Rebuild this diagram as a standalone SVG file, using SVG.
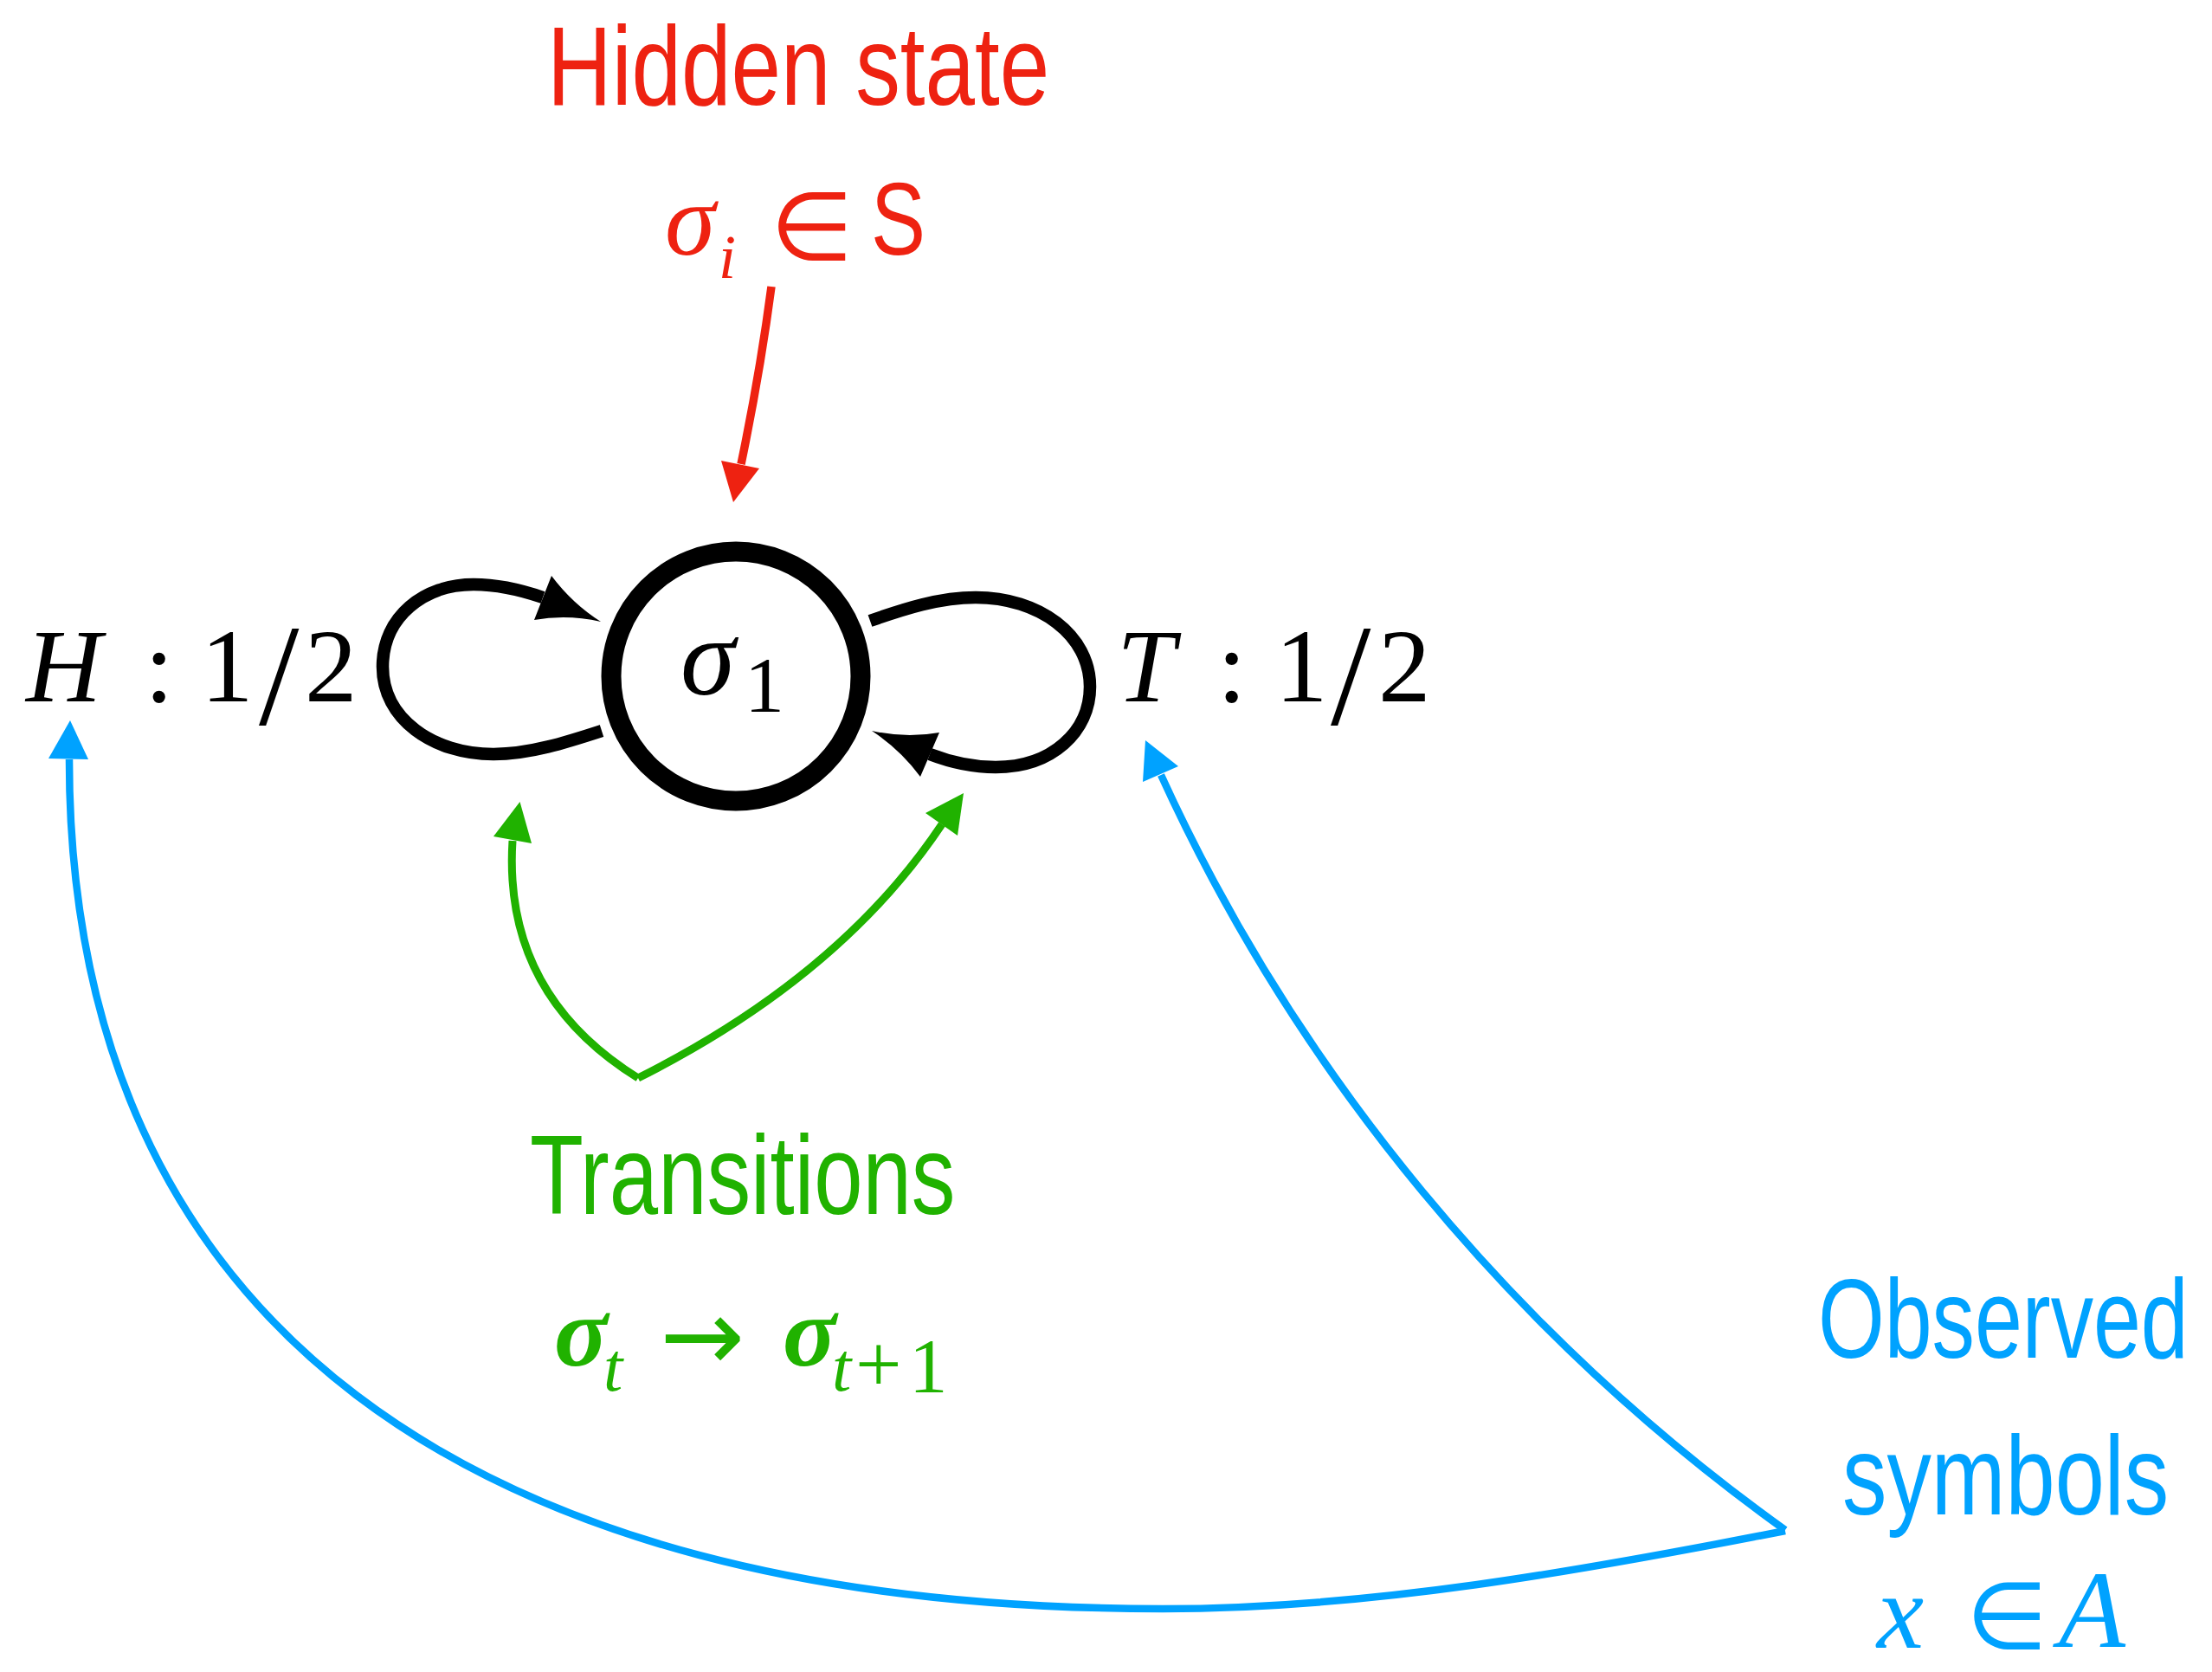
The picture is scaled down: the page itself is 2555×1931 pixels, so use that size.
<svg xmlns="http://www.w3.org/2000/svg" width="2555" height="1931" viewBox="0 0 2555 1931">
<style>
.sans{font-family:"Liberation Sans","Open Sans",sans-serif;}
.serif{font-family:"Liberation Serif","DejaVu Serif",serif;}
.sym{font-family:"DejaVu Sans",sans-serif;}
.it{font-style:italic;}
.red{fill:#EE2211;}
.green{fill:#20B200;}
.blue{fill:#00A2FF;}
.blk{fill:#000;}
.line{fill:none;stroke-linecap:butt;stroke-linejoin:miter;}
.l-red{stroke:#EE2211;stroke-width:9.5;}
.l-green{stroke:#20B200;stroke-width:9;}
.l-blue{stroke:#00A2FF;stroke-width:8.5;}
.l-blk{stroke:#000;stroke-width:14.5;}
</style>
<rect x="0" y="0" width="2555" height="1931" fill="#fff"/>

<g id="connectors">
  <!-- red: hidden state -> sigma1 -->
  <path class="line l-red" d="M 891,331 Q 878,430 856,536"/>
  <polygon class="red" points="847,580 833,532 877,541"/>
  <!-- left self loop (H) -->
  <path class="line l-blk" d="M 695,844 C 655,857 612,871 570,871 C 500,871 442,830 442,770 C 442,712 490,675 547,675 C 572,675 598,680 627,690"/>
  <path class="blk" d="M 637,665 Q 661.5,697.5 694,718 Q 655,709 617,716 Z"/>
  <!-- right self loop (T) -->
  <path class="line l-blk" d="M 1005,717 C 1045,703 1085,690 1127,690 C 1200,690 1259,733 1259,793 C 1259,845 1215,886 1150,886 C 1125,886 1100,881 1074,871"/>
  <path class="blk" d="M 1085,846 Q 1046,853 1007,844 Q 1040,866 1063,897 Z"/>
  <!-- green transitions -->
  <path class="line l-green" d="M 737,1245 C 626,1176 585,1081 592,971"/>
  <polygon class="green" points="600.5,926 570,966 614,974"/>
  <path class="line l-green" d="M 737,1245 Q 970.5,1128 1088,952"/>
  <polygon class="green" points="1113,916 1069,939 1106,965"/>
  <!-- blue observed symbols -->
  <path class="line l-blue" d="M 2062,1767 C 1748,1542 1498,1239 1341,895"/>
  <polygon class="blue" points="1323,855 1320,903 1361,885"/>
  <path class="line l-blue" d="M 2062,1768 C 1827,1814 1583,1858 1343,1858 C 543,1858 80,1527 80,877"/>
  <polygon class="blue" points="81,832 56,876 102,877"/>
</g>

<g id="node-sigma1">
  <circle cx="850" cy="781" r="144" fill="none" stroke="#000" stroke-width="23"/>
  <text class="serif blk"><tspan class="it" x="786" y="802" font-size="128">σ</tspan><tspan x="860" y="822" font-size="92">1</tspan></text>
</g>

<g id="label-H">
  <text class="serif blk" font-size="121"><tspan class="it" x="30" y="810">H</tspan><tspan x="167" y="810">:</tspan><tspan x="232" y="810">1</tspan><tspan x="299" y="836" font-size="167">/</tspan><tspan x="352" y="810">2</tspan></text>
</g>

<g id="label-T">
  <text class="serif blk" font-size="121"><tspan class="it" x="1290" y="810">T</tspan><tspan x="1406" y="810">:</tspan><tspan x="1473" y="810">1</tspan><tspan x="1537" y="836" font-size="167">/</tspan><tspan x="1592" y="810">2</tspan></text>
</g>

<g id="label-hidden-state">
  <text class="sans red" transform="translate(632,121) scale(0.795,1)" x="0" y="0" font-size="130">Hidden state</text>
  <text class="serif red"><tspan class="it" x="768" y="294" font-size="118">σ</tspan><tspan class="it" x="830" y="321" font-size="72">i</tspan><tspan class="sym" x="890" y="300" font-size="110">∈</tspan></text>
  <text class="sans red" transform="translate(1006,294) scale(0.8,1)" x="0" y="0" font-size="118">S</text>
</g>

<g id="label-transitions">
  <text class="sans green" transform="translate(612,1402) scale(0.779,1)" x="0" y="0" font-size="130">Transitions</text>
  <text class="serif green"><tspan class="it" font-weight="bold" x="640" y="1577" font-size="115">σ</tspan><tspan class="it" x="697" y="1606" font-size="80">t</tspan><tspan class="sym" x="762" y="1583" font-size="117">→</tspan><tspan class="it" font-weight="bold" x="904" y="1577" font-size="115">σ</tspan><tspan class="it" x="961" y="1606" font-size="80">t</tspan><tspan x="988" y="1607" font-size="95">+</tspan><tspan x="1050" y="1607" font-size="89">1</tspan></text>
</g>

<g id="label-observed">
  <text class="sans blue" transform="translate(2100,1568) scale(0.759,1)" x="0" y="0" font-size="130">Observed</text>
  <text class="sans blue" transform="translate(2128,1749) scale(0.791,1)" x="0" y="0" font-size="130">symbols</text>
  <text class="serif blue"><tspan class="it" x="2168" y="1903" font-size="122">x</tspan><tspan class="sym" x="2271" y="1904" font-size="108">∈</tspan><tspan class="it" x="2378" y="1902" font-size="126">A</tspan></text>
</g>
</svg>
